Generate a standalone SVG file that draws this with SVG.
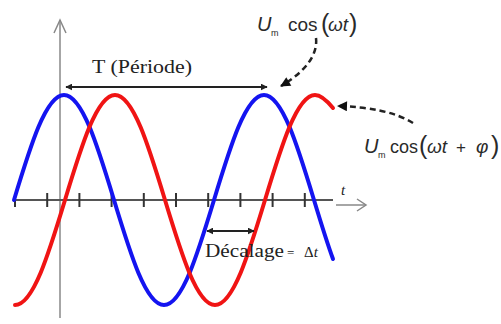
<svg xmlns="http://www.w3.org/2000/svg" width="501" height="324" viewBox="0 0 501 324">
<style>
.axis{stroke:#555;stroke-width:2;fill:none}
.vaxis{stroke:#888;stroke-width:1.5;fill:none}
.tick{stroke:#333;stroke-width:2}
.wave{fill:none;stroke-width:4;stroke-linecap:round;stroke-linejoin:round}
.dash{fill:none;stroke:#222;stroke-width:2.5;stroke-dasharray:6 4}
.dim{fill:none;stroke:#222;stroke-width:2}
.serif{font-family:"Liberation Serif","Times New Roman",serif;fill:#222}
.sans{font-family:"Liberation Sans",Arial,sans-serif;fill:#2a2a2a}
</style>
<defs>
<marker id="tri" viewBox="0 0 10 10" refX="9" refY="5" markerWidth="5" markerHeight="4" orient="auto-start-reverse" markerUnits="strokeWidth">
<path d="M0,0 L10,5 L0,10 z" fill="#111"/>
</marker>
<marker id="small" viewBox="0 0 10 10" refX="9" refY="5" markerWidth="3.5" markerHeight="3.5" orient="auto-start-reverse" markerUnits="strokeWidth">
<path d="M0,0 L10,5 L0,10 z" fill="#222"/>
</marker>
</defs>
<rect width="501" height="324" fill="#fff"/>
<g id="axes">
<line class="vaxis" x1="60" y1="20" x2="60" y2="318"/>
<polyline class="vaxis" points="54,33 60,20 66,33"/>
<line class="axis" x1="15" y1="200" x2="333" y2="200"/>
<g class="tick">
<line x1="15" y1="193" x2="15" y2="207"/>
<line x1="47.2" y1="193" x2="47.2" y2="207"/>
<line x1="79.4" y1="193" x2="79.4" y2="207"/>
<line x1="111.6" y1="193" x2="111.6" y2="207"/>
<line x1="143.8" y1="193" x2="143.8" y2="207"/>
<line x1="176" y1="193" x2="176" y2="207"/>
<line x1="208.2" y1="193" x2="208.2" y2="207"/>
<line x1="240.4" y1="193" x2="240.4" y2="207"/>
<line x1="272.6" y1="193" x2="272.6" y2="207"/>
<line x1="304.8" y1="193" x2="304.8" y2="207"/>
</g>
<line class="vaxis" x1="336" y1="205" x2="366" y2="205"/>
<polyline class="vaxis" points="357,199 366,205 357,211"/>
<text class="serif" x="341" y="195" font-size="15" font-style="italic">t</text>
</g>
<g id="blue-wave">
<path class="wave" stroke="#1414f0" d="M14,200 C30.31,146.21 45.9,95 64,95 C82.1,95 97.69,146.21 114,200 C130.31,253.79 145.9,305 164,305 C182.1,305 197.69,253.79 214,200 C230.31,146.21 245.9,95 264,95 C282.1,95 297.69,146.21 314,200 C320.33,220.9 326.67,241.7 333,259"/>
</g>
<g id="red-wave">
<path class="wave" stroke="#f01414" d="M15,305 C33.1,305 48.69,253.79 65,200 C81.31,146.21 96.9,95 115,95 C133.1,95 148.69,146.21 165,200 C181.31,253.79 196.9,305 215,305 C233.1,305 248.69,253.79 265,200 C281.31,146.21 296.9,95 315,95 C321,95 327,100.7 333,108"/>
</g>
<g id="connectors">
<line class="dim" x1="66" y1="87" x2="267" y2="87" marker-start="url(#small)" marker-end="url(#small)"/>
<line class="dim" x1="207" y1="231" x2="254" y2="231" marker-start="url(#small)" marker-end="url(#small)"/>
<path class="dash" d="M316,38 C318,55 305,72 281,86" marker-end="url(#tri)"/>
<path class="dash" d="M413,123 C395,112 370,107 338,106" marker-end="url(#tri)"/>
</g>
<g id="label-period">
<text class="serif" x="92" y="73" font-size="19" textLength="100" lengthAdjust="spacingAndGlyphs">T (Période)</text>
</g>
<g id="label-u1">
<text class="sans" x="257" y="31" font-size="20" font-style="italic">U</text>
<text class="sans" x="271" y="36" font-size="9">m</text>
<text class="sans" x="288" y="31" font-size="19">cos</text>
<text class="sans" x="321" y="32" font-size="25" font-weight="300">(</text>
<text class="sans" x="328" y="31" font-size="19" font-style="italic">ωt</text>
<text class="sans" x="349" y="32" font-size="25" font-weight="300">)</text>
</g>
<g id="label-u2">
<text class="sans" x="364" y="153" font-size="20" font-style="italic">U</text>
<text class="sans" x="378" y="158" font-size="9">m</text>
<text class="sans" x="390" y="153" font-size="18">cos</text>
<text class="sans" x="419" y="154" font-size="25" font-weight="300">(</text>
<text class="sans" x="427" y="153" font-size="19" font-style="italic">ωt</text>
<text class="sans" x="456" y="153" font-size="17">+</text>
<text class="sans" x="476" y="153" font-size="19" font-style="italic">φ</text>
<text class="sans" x="491" y="154" font-size="25" font-weight="300">)</text>
</g>
<g id="label-decalage">
<text class="serif" x="205" y="257" font-size="18" textLength="79" lengthAdjust="spacingAndGlyphs">Décalage</text>
<text class="serif" x="287" y="257" font-size="13">=</text>
<text class="serif" x="304" y="257" font-size="15">Δ<tspan font-style="italic">t</tspan></text>
</g>
</svg>
